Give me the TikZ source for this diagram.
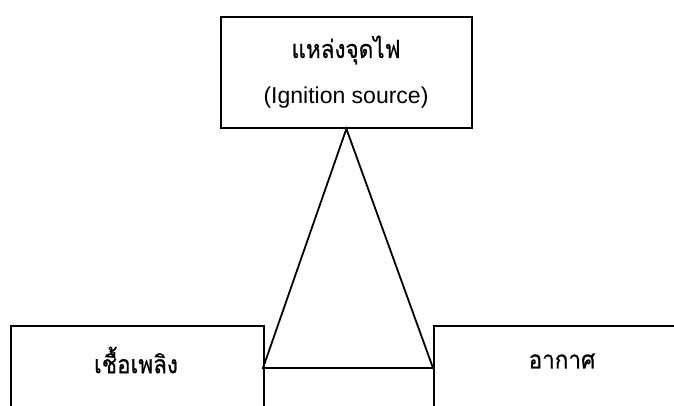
\documentclass[tikz,border=0pt]{standalone}
\usepackage{fontspec}
\setmainfont{Liberation Sans}
\newfontfamily\thaifont[Script=Thai,FakeStretch=0.9,FakeBold=0.6]{Loma}
\begin{document}
\begin{tikzpicture}[x=1pt,y=-1pt,
  box/.style={draw, line width=1.8pt, inner sep=0pt, anchor=north west},
  lbl/.style={inner sep=0pt, font=\fontsize{23}{27}\selectfont},
  thlbl/.style={inner sep=0pt, font=\thaifont\fontsize{25}{30}\selectfont},
  tri/.style={line width=1.8pt, line join=miter}]
\useasboundingbox (0,0) rectangle (674,406);
\clip (0,0) rectangle (674,406);
\node[box, minimum width=251pt, minimum height=111pt] (ign) at (220,16) {};
\node[box, minimum width=253pt, minimum height=120pt] (fuel) at (10,325) {};
\node[box, minimum width=260pt, minimum height=120pt] (air) at (433,325) {};
\node[thlbl] (ignth) at (346,50) {แหล่งจุดไฟ};
\node[lbl] (ignen) at (346,98) {(Ignition source)};
\node[thlbl] (fuelth) at (136,360) {เชื้อเพลิง};
\node[thlbl] (airth) at (562,361) {อากาศ};
\coordinate (bl) at (263,368);
\coordinate (br) at (433,368);
\draw[tri] (ign.south) -- (bl) -- (br) -- cycle;
\end{tikzpicture}
\end{document}
